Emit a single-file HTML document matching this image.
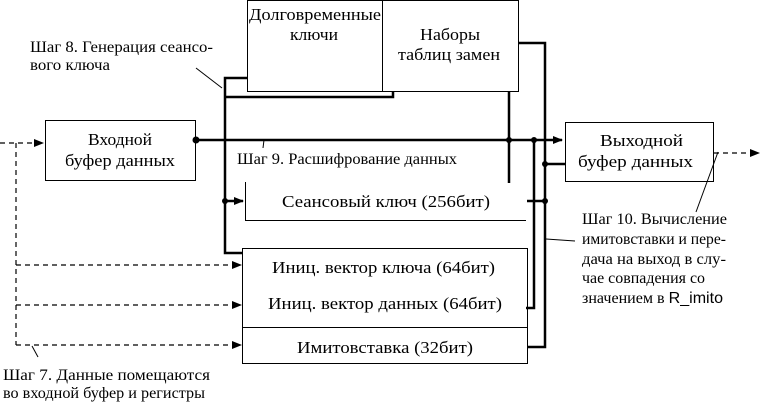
<!DOCTYPE html>
<html><head><meta charset="utf-8"><style>
html,body{margin:0;padding:0;background:#fff;width:761px;height:402px;overflow:hidden}
</style></head><body>
<svg width="761" height="402" viewBox="0 0 761 402" xmlns="http://www.w3.org/2000/svg">
<defs>
<marker id="a" markerWidth="10" markerHeight="8" refX="9" refY="4" orient="auto" markerUnits="userSpaceOnUse"><path d="M0,0 L10,4 L0,8 z" fill="#000"/></marker>
</defs>
<g fill="none" stroke="#000">
<rect x="247.5" y="0.5" width="135" height="91" stroke-width="1"/>
<rect x="382.5" y="0.5" width="136" height="91" stroke-width="1"/>
<rect x="45.5" y="120.5" width="150" height="60" stroke-width="1"/>
<rect x="565.5" y="122.5" width="148" height="59" stroke-width="1"/>
<path d="M245.5,182 V220.5 H526" stroke-width="1"/>
<rect x="242.5" y="248.5" width="285" height="115" stroke-width="1"/>
<line x1="242" y1="327.5" x2="527" y2="327.5" stroke-width="1"/>
<path d="M247,78 H225 V253 H243" stroke-width="2.5"/>
<path d="M225,97 H393 V91" stroke-width="2.5"/>
<line x1="196" y1="140" x2="562" y2="140" stroke-width="2.5" marker-end="url(#a)"/>
<line x1="509" y1="91" x2="509" y2="183" stroke-width="2.5"/>
<path d="M534,140 V308 H526" stroke-width="2.5"/>
<path d="M518,43 H545 V347 H527" stroke-width="2.5"/>
<line x1="545" y1="164" x2="565" y2="164" stroke-width="2.5"/>
<line x1="527" y1="201" x2="545" y2="201" stroke-width="2.5"/>
<line x1="225" y1="201" x2="243" y2="201" stroke-width="2.5" marker-end="url(#a)"/>
<g stroke-dasharray="5,4" stroke-width="1.2">
<line x1="0" y1="143" x2="43" y2="143" marker-end="url(#a)"/>
<line x1="16" y1="143" x2="16" y2="345"/>
<line x1="16" y1="265" x2="241" y2="265" marker-end="url(#a)"/>
<line x1="16" y1="305" x2="241" y2="305" marker-end="url(#a)"/>
<line x1="16" y1="345" x2="241" y2="345" marker-end="url(#a)"/>
<line x1="714" y1="153" x2="759" y2="153" marker-end="url(#a)"/>
</g>
<line x1="32" y1="346" x2="38" y2="357" stroke-width="1"/>
<line x1="196" y1="68" x2="222" y2="88" stroke-width="1"/>
<line x1="264" y1="140" x2="263" y2="148" stroke-width="1"/>
<line x1="546" y1="239" x2="575" y2="241" stroke-width="1"/>
<line x1="718" y1="152" x2="696" y2="212" stroke-width="1"/>
</g>
<g fill="#000">
<circle cx="196" cy="140" r="3.5"/>
<circle cx="509" cy="140" r="3"/>
<circle cx="534" cy="140" r="3"/>
<circle cx="545" cy="164" r="3"/>
<circle cx="545" cy="201" r="3"/>
<circle cx="225" cy="201" r="3"/>
</g>
<g font-family="Liberation Serif, DejaVu Serif, serif" font-size="17" fill="#000" lengthAdjust="spacingAndGlyphs">
<text x="249" y="20" textLength="132" lengthAdjust="spacingAndGlyphs">Долговременные</text>
<text x="290" y="40" textLength="48" lengthAdjust="spacingAndGlyphs">ключи</text>
<text x="420" y="40" textLength="60" lengthAdjust="spacingAndGlyphs">Наборы</text>
<text x="398" y="60" textLength="102" lengthAdjust="spacingAndGlyphs">таблиц замен</text>
<text x="88" y="145" textLength="64" lengthAdjust="spacingAndGlyphs">Входной</text>
<text x="65" y="166" textLength="110" lengthAdjust="spacingAndGlyphs">буфер данных</text>
<text x="600" y="146" textLength="83" lengthAdjust="spacingAndGlyphs">Выходной</text>
<text x="578" y="167" textLength="115" lengthAdjust="spacingAndGlyphs">буфер данных</text>
<text x="282" y="207" textLength="208" lengthAdjust="spacingAndGlyphs">Сеансовый ключ (256бит)</text>
<text x="272" y="273" textLength="223" lengthAdjust="spacingAndGlyphs">Иниц. вектор ключа (64бит)</text>
<text x="268" y="309" textLength="234" lengthAdjust="spacingAndGlyphs">Иниц. вектор данных (64бит)</text>
<text x="297" y="353" textLength="176" lengthAdjust="spacingAndGlyphs">Имитовставка (32бит)</text>
</g>
<g font-family="Liberation Serif, DejaVu Serif, serif" font-size="16" fill="#000">
<text x="30" y="52" textLength="183" lengthAdjust="spacingAndGlyphs">Шаг 8. Генерация сеансо-</text>
<text x="30" y="70" textLength="80" lengthAdjust="spacingAndGlyphs">вого ключа</text>
<text x="237" y="164" textLength="220" lengthAdjust="spacingAndGlyphs">Шаг 9. Расшифрование данных</text>
<text x="3" y="380" textLength="207" lengthAdjust="spacingAndGlyphs">Шаг 7. Данные помещаются</text>
<text x="3" y="398" textLength="202" lengthAdjust="spacingAndGlyphs">во входной буфер и регистры</text>
<text x="582" y="224" textLength="145" lengthAdjust="spacingAndGlyphs">Шаг 10. Вычисление</text>
<text x="582" y="244" textLength="144" lengthAdjust="spacingAndGlyphs">имитовставки и пере-</text>
<text x="582" y="264" textLength="144" lengthAdjust="spacingAndGlyphs">дача на выход в слу-</text>
<text x="582" y="283" textLength="123" lengthAdjust="spacingAndGlyphs">чае совпадения со</text>
<text x="582" y="303" textLength="141" lengthAdjust="spacingAndGlyphs">значением в <tspan font-family="Liberation Sans, sans-serif">R_imito</tspan></text>
</g>
</svg>
</body></html>
